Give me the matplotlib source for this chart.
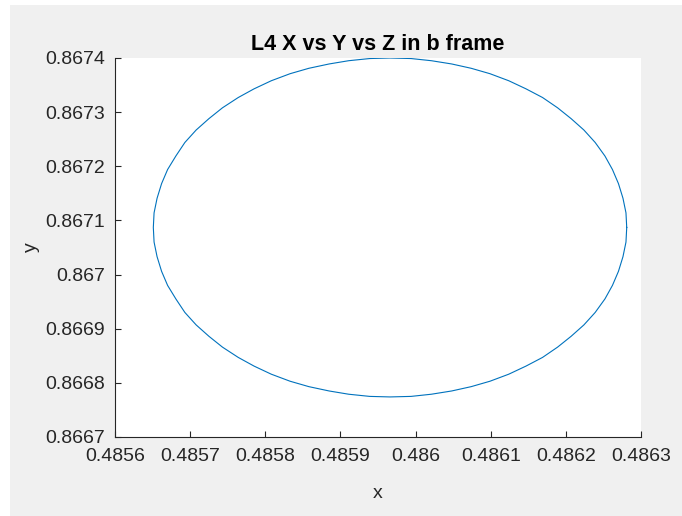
import matplotlib
matplotlib.use('Agg')
import matplotlib.pyplot as plt
from matplotlib.patches import Rectangle
from matplotlib.ticker import FuncFormatter

# Punkte der Kurve (geschlossene Bahn, alle 5 Grad)
x_vals = [0.486281, 0.486280, 0.486276, 0.486270, 0.486262, 0.486252, 0.486239, 0.486224,
          0.486207, 0.486189, 0.486169, 0.486147, 0.486124, 0.486099, 0.486074, 0.486048,
          0.486021, 0.485994, 0.485966, 0.485939, 0.485911, 0.485885, 0.485858, 0.485833,
          0.485808, 0.485785, 0.485764, 0.485743, 0.485725, 0.485708, 0.485693, 0.485681,
          0.485670, 0.485662, 0.485656, 0.485652, 0.485651, 0.485652, 0.485656, 0.485662,
          0.485670, 0.485681, 0.485693, 0.485708, 0.485725, 0.485743, 0.485764, 0.485785,
          0.485808, 0.485833, 0.485858, 0.485885, 0.485911, 0.485939, 0.485966, 0.485994,
          0.486021, 0.486048, 0.486074, 0.486099, 0.486124, 0.486147, 0.486169, 0.486189,
          0.486207, 0.486224, 0.486239, 0.486252, 0.486262, 0.486270, 0.486276, 0.486280,
          0.486281]
y_vals = [0.867087, 0.867114, 0.867141, 0.867168, 0.867194, 0.867219, 0.867244, 0.867267,
          0.867288, 0.867308, 0.867327, 0.867343, 0.867358, 0.867371, 0.867381, 0.867389,
          0.867395, 0.867399, 0.867400, 0.867399, 0.867395, 0.867389, 0.867381, 0.867371,
          0.867358, 0.867343, 0.867327, 0.867308, 0.867288, 0.867267, 0.867244, 0.867219,
          0.867194, 0.867168, 0.867141, 0.867114, 0.867087, 0.867060, 0.867033, 0.867006,
          0.866980, 0.866955, 0.866930, 0.866907, 0.866886, 0.866866, 0.866847, 0.866831,
          0.866816, 0.866803, 0.866793, 0.866785, 0.866779, 0.866775, 0.866774, 0.866775,
          0.866779, 0.866785, 0.866793, 0.866803, 0.866816, 0.866831, 0.866847, 0.866866,
          0.866886, 0.866907, 0.866930, 0.866955, 0.866980, 0.867006, 0.867033, 0.867060,
          0.867087]

x_ticks = [0.4856, 0.4857, 0.4858, 0.4859, 0.4860, 0.4861, 0.4862, 0.4863]
y_ticks = [0.8667, 0.8668, 0.8669, 0.8670, 0.8671, 0.8672, 0.8673, 0.8674]

plt.rcParams['font.family'] = ['Liberation Sans', 'DejaVu Sans']

fig = plt.figure(figsize=(6.82, 5.16), dpi=100, facecolor='white')
# grauer Hintergrund wie im MATLAB-Fenster
fig.patches.append(Rectangle((10 / 682, 0), 1, 1 - 5 / 516, transform=fig.transFigure,
                             facecolor='#f0f0f0', edgecolor='none', zorder=-10))

ax = fig.add_axes([115 / 682, 1 - 437 / 516, 526 / 682, 379 / 516])
ax.set_zorder(1)
ax.set_facecolor('white')
ax.plot(x_vals, y_vals, color='#0072BD', linewidth=0.8)

ax.set_xlim(0.4856, 0.4863)
ax.set_ylim(0.8667, 0.8674)
ax.set_xticks(x_ticks)
ax.set_yticks(y_ticks)
fmt = FuncFormatter(lambda v, p: f'{v:.4f}'.rstrip('0').rstrip('.'))
ax.xaxis.set_major_formatter(fmt)
ax.yaxis.set_major_formatter(fmt)

for s in ['top', 'right']:
    ax.spines[s].set_visible(False)
for s in ['left', 'bottom']:
    ax.spines[s].set_color('#262626')
    ax.spines[s].set_linewidth(0.8)
ax.tick_params(direction='in', length=4, width=0.8, colors='#262626', labelsize=14)
ax.tick_params(axis='x', pad=8)
ax.tick_params(axis='y', pad=7)

ax.set_xlabel('x', fontsize=14, color='#262626', labelpad=14)
ax.set_ylabel('y', fontsize=14, color='#262626', labelpad=4)
ax.set_title('L4 X vs Y vs Z in b frame', fontsize=15.5, fontweight='bold',
             color='black', pad=6)

fig.savefig('out.png', dpi=100, facecolor=fig.get_facecolor())
